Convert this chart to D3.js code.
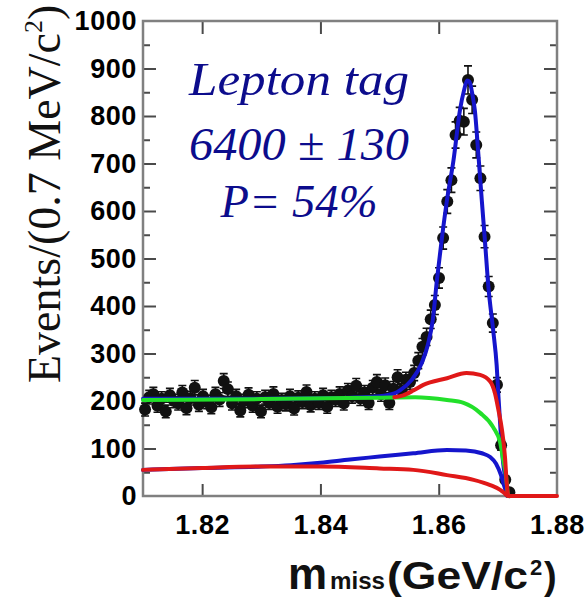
<!DOCTYPE html>
<html>
<head>
<meta charset="utf-8">
<script src="https://cdn.jsdelivr.net/npm/d3@7"></script>
<style>
    body { margin: 0; background: #fff; }
    svg { display: block; }
</style>
</head>
<body>
<svg id="chart" width="587" height="598"></svg>
<script>
// histogram: 0.7 MeV bins starting at 1.81 GeV
const binStart = 1.81;
const binWidth = 0.0007;
const counts = [
    182, 208, 214, 190, 205, 178, 212, 200, 195, 218,
    185, 206, 228, 192, 210, 198, 187, 214, 203, 242,
    225, 195, 210, 180, 200, 213, 190, 205, 178, 208,
    196, 215, 188, 202, 193, 210, 184, 207, 198, 219,
    191, 205, 196, 212, 188, 208, 203, 215, 195, 222,
    210, 232, 205, 218, 196, 228, 240, 214, 233, 196,
    226, 250, 222, 245, 240, 259, 285, 314, 335, 372,
    402, 459, 543, 620, 665, 760, 790, 788, 876, 834,
    739, 669, 546, 441, 364, 234, 107, 34, 8
];

// fit curves: [mass, events]
const fitTotal = [
    [1.81, 205], [1.83, 205], [1.84, 206], [1.845, 207], [1.85, 210],
    [1.8525, 216], [1.8535, 223], [1.8554, 244], [1.8571, 279], [1.8582, 320],
    [1.859, 371], [1.8597, 455], [1.8605, 539], [1.8614, 623], [1.8625, 707],
    [1.8636, 813], [1.8643, 855], [1.8648, 875], [1.8652, 872], [1.8657, 845],
    [1.8661, 813], [1.8667, 720], [1.8673, 620], [1.8678, 540], [1.8684, 440],
    [1.8692, 350], [1.8698, 275], [1.8701, 210], [1.8705, 130], [1.8709, 69],
    [1.8714, 25], [1.8716, 0]
];
const bkgTotal = [
    [1.81, 202], [1.83, 204], [1.85, 207], [1.856, 208], [1.8614, 202],
    [1.8642, 196], [1.867, 175], [1.8692, 145], [1.8704, 112], [1.8709, 76],
    [1.8714, 40], [1.8716, 13], [1.8717, 0]
];
const bkgPeaking = [
    [1.8525, 208], [1.854, 212], [1.8557, 222], [1.8574, 234], [1.8614, 248],
    [1.8647, 259], [1.867, 255], [1.8687, 241], [1.8695, 217], [1.8701, 181],
    [1.8707, 139], [1.8712, 83], [1.8715, 27], [1.8717, 2]
];
const bkgLowBlue = [
    [1.81, 55], [1.82, 59], [1.83, 62], [1.835, 65], [1.84, 70],
    [1.845, 77], [1.85, 83], [1.8557, 90], [1.8614, 97], [1.8646, 96],
    [1.8673, 90], [1.8687, 82], [1.8697, 68], [1.8705, 45], [1.8711, 20],
    [1.8716, 0]
];
const bkgLowRed = [
    [1.81, 55], [1.82, 59], [1.83, 62], [1.84, 62], [1.85, 58],
    [1.8557, 55], [1.8614, 44], [1.8659, 34], [1.8687, 23], [1.8704, 13],
    [1.8712, 5], [1.8717, 0], [1.88, 0]
];

const xTicks = [1.82, 1.84, 1.86, 1.88];
const yTicks = [0, 100, 200, 300, 400, 500, 600, 700, 800, 900, 1000];
const yMinor = [50, 150, 250, 350, 450, 550, 650, 750, 850, 950];
const labelLines = ["Lepton tag", "6400 \u00b1 130", "P= 54%"];

const svg = d3.select("#chart");
const plot = { left: 143, right: 557, top: 21, bottom: 496 };

const x = d3.scaleLinear().domain([1.81, 1.88]).range([plot.left, plot.right]);
const y = d3.scaleLinear().domain([0, 1000]).range([plot.bottom, plot.top]);

const frameColor = "#808080";
const tickColor = "#4a4a4a";
const sansBold = "'Liberation Sans', Arial, sans-serif";

// ---- ticks (all pointing into the plot)
function tickSet(g) {
    g.select(".domain").remove();
    g.selectAll(".tick line").attr("stroke", tickColor).attr("stroke-width", 2);
    g.selectAll(".tick text")
        .attr("fill", "#000")
        .attr("font-family", sansBold)
        .attr("font-weight", "bold")
        .attr("font-size", 27)
        .attr("letter-spacing", 0.6);
}

svg.append("g")
    .attr("transform", `translate(0,${plot.bottom})`)
    .call(d3.axisBottom(x).tickValues(xTicks).tickSize(-12).tickPadding(19)
        .tickFormat(d3.format(".2f")))
    .call(tickSet)
    .call(g => g.selectAll(".tick").filter(d => d === 1.88).select("line").remove());

svg.append("g")
    .attr("transform", `translate(0,${plot.top})`)
    .call(d3.axisTop(x).tickValues(xTicks.slice(0, 3)).tickSize(-13).tickFormat(""))
    .call(tickSet);

svg.append("g")
    .attr("transform", `translate(${plot.left},0)`)
    .call(d3.axisLeft(y).tickValues(yTicks).tickSize(-13).tickPadding(6)
        .tickFormat(d3.format("d")))
    .call(tickSet)
    .call(g => g.selectAll(".tick").filter(d => d === 0 || d === 1000).select("line").remove());

svg.append("g")
    .attr("transform", `translate(${plot.left},0)`)
    .call(d3.axisLeft(y).tickValues(yMinor).tickSize(-7).tickFormat(""))
    .call(tickSet);

svg.append("g")
    .attr("transform", `translate(${plot.right},0)`)
    .call(d3.axisRight(y).tickValues(yTicks.slice(1, -1)).tickSize(-13).tickFormat(""))
    .call(tickSet);

svg.append("g")
    .attr("transform", `translate(${plot.right},0)`)
    .call(d3.axisRight(y).tickValues(yMinor).tickSize(-7).tickFormat(""))
    .call(tickSet);

// frame
svg.append("rect")
    .attr("x", plot.left)
    .attr("y", plot.top)
    .attr("width", plot.right - plot.left)
    .attr("height", plot.bottom - plot.top)
    .attr("fill", "none")
    .attr("stroke", frameColor)
    .attr("stroke-width", 2.5);

// ---- data points with error bars
const points = counts.map((c, i) => ({ m: binStart + binWidth * (i + 0.5), n: c }));

const pts = svg.append("g").attr("id", "points");
pts.selectAll("path.err")
    .data(points)
    .join("path")
    .attr("class", "err")
    .attr("d", d => {
        const cx = x(d.m);
        const y1 = y(d.n + Math.sqrt(d.n));
        const y2 = y(Math.max(d.n - Math.sqrt(d.n), 0));
        return `M${cx},${y1}V${y2}M${cx - 4},${y1}H${cx + 4}M${cx - 4},${y2}H${cx + 4}`;
    })
    .attr("stroke", "#111")
    .attr("stroke-width", 1.6)
    .attr("fill", "none");

pts.selectAll("circle")
    .data(points)
    .join("circle")
    .attr("cx", d => x(d.m))
    .attr("cy", d => y(d.n))
    .attr("r", 6)
    .attr("fill", "#111");

// ---- fit curves
const line = d3.line()
    .x(d => x(d[0]))
    .y(d => y(d[1]))
    .curve(d3.curveMonotoneX);

const curves = [
    { data: fitTotal, color: "#1515cc" },
    { data: bkgLowBlue, color: "#1515cc" },
    { data: bkgTotal, color: "#22e02a" },
    { data: bkgPeaking, color: "#e01818" },
    { data: bkgLowRed, color: "#e01818" },
];

svg.append("g")
    .attr("id", "curves")
    .selectAll("path")
    .data(curves)
    .join("path")
    .attr("d", d => line(d.data))
    .attr("fill", "none")
    .attr("stroke", d => d.color)
    .attr("stroke-width", 4)
    .attr("stroke-linejoin", "round")
    .attr("stroke-linecap", "round");

// ---- annotation
const noteWidths = [220, 220, 157];
const noteBase = [95, 160, 217];
svg.append("g")
    .selectAll("text")
    .data(labelLines)
    .join("text")
    .attr("x", 299)
    .attr("y", (d, i) => noteBase[i])
    .attr("text-anchor", "middle")
    .attr("font-family", "'Liberation Serif', 'Times New Roman', serif")
    .attr("font-style", "italic")
    .attr("font-size", 46)
    .attr("fill", "#0c0c8c")
    .attr("textLength", (d, i) => noteWidths[i])
    .attr("lengthAdjust", "spacingAndGlyphs")
    .text(d => d);

// ---- y title
const yTitle = svg.append("text")
    .attr("transform", "translate(60,383) rotate(-90)")
    .attr("font-family", "'Liberation Serif', 'Times New Roman', serif")
    .attr("font-size", 46)
    .attr("fill", "#111");
yTitle.append("tspan").text("Events/(0.7 MeV/c");
yTitle.append("tspan").attr("font-size", 26).attr("dy", -18).text("2");
yTitle.append("tspan").attr("dy", 18).text(")");

// ---- x title
const xTitle = svg.append("text")
    .attr("y", 589)
    .attr("font-family", sansBold)
    .attr("font-weight", "bold")
    .attr("fill", "#111");
xTitle.append("tspan").attr("x", 288).attr("font-size", 44).text("m");
xTitle.append("tspan").attr("x", 330).attr("font-size", 24)
    .attr("textLength", 55).attr("lengthAdjust", "spacingAndGlyphs").text("miss");
xTitle.append("tspan").attr("x", 387).attr("font-size", 38)
    .attr("textLength", 141).attr("lengthAdjust", "spacingAndGlyphs").text("(GeV/c");
xTitle.append("tspan").attr("x", 530).attr("dy", -14).attr("font-size", 22).text("2");
xTitle.append("tspan").attr("x", 544).attr("dy", 14).attr("font-size", 38).text(")");
</script>
</body>
</html>
